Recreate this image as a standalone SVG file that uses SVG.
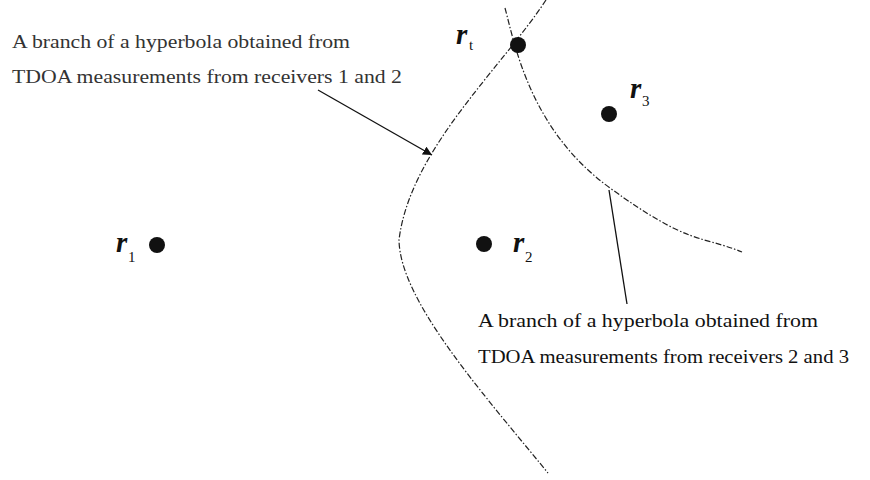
<svg xmlns="http://www.w3.org/2000/svg" width="870" height="480" viewBox="0 0 870 480">
<defs>
<style>
.hyp{fill:none;stroke:#222;stroke-width:1.2;stroke-dasharray:6 2 1.5 2}
.ptr{fill:none;stroke:#111;stroke-width:1.3}
.dot{fill:#111}
.lbl{font-family:"Liberation Serif",serif;font-size:19px;fill:#111}
.lbl2{font-family:"Liberation Serif",serif;font-size:18px;fill:#333}
.r{font-family:"Liberation Serif",serif;font-size:29px;font-weight:bold;font-style:italic;fill:#111}
.sub{font-family:"Liberation Serif",serif;font-size:15px;fill:#111}
</style>
<marker id="ah" viewBox="0 0 10 10" refX="10" refY="5" markerWidth="9" markerHeight="9" markerUnits="userSpaceOnUse" orient="auto">
<path d="M0,0 L10,5 L0,10 z" fill="#111"/>
</marker>
</defs>
<rect width="870" height="480" fill="#fff"/>
<g id="connectors">
<path id="hyperbola12" class="hyp" d="M546,0 C500,70 410,150 399,240 C400,300 480,390 548,473"/>
<path id="hyperbola23" class="hyp" d="M505,8 C515,45 530,130 610,188 S700,235 742,252"/>
<line id="arrow12" class="ptr" x1="318" y1="90" x2="432" y2="155" marker-end="url(#ah)"/>
<line id="pointer23" class="ptr" x1="609" y1="190" x2="627" y2="304"/>
</g>
<g id="rt"><circle class="dot" cx="518" cy="45" r="8"/><text class="r" x="456" y="44">r</text><text class="sub" x="469" y="50">t</text></g>
<g id="r3"><circle class="dot" cx="609" cy="114" r="8"/><text class="r" x="630" y="98">r</text><text class="sub" x="642" y="106">3</text></g>
<g id="r1"><circle class="dot" cx="157" cy="245" r="8"/><text class="r" x="116" y="252">r</text><text class="sub" x="128" y="262">1</text></g>
<g id="r2"><circle class="dot" cx="484" cy="244" r="8"/><text class="r" x="513" y="252">r</text><text class="sub" x="525" y="262">2</text></g>
<g id="label12">
<text class="lbl2" x="12" y="48" textLength="338" lengthAdjust="spacingAndGlyphs">A branch of a hyperbola obtained from</text>
<text class="lbl2" x="12" y="83" textLength="390" lengthAdjust="spacingAndGlyphs">TDOA measurements from receivers 1 and 2</text>
</g>
<g id="label23">
<text class="lbl" x="478" y="327" textLength="340" lengthAdjust="spacingAndGlyphs">A branch of a hyperbola obtained from</text>
<text class="lbl" x="478" y="363" textLength="371" lengthAdjust="spacingAndGlyphs">TDOA measurements from receivers 2 and 3</text>
</g>
</svg>
